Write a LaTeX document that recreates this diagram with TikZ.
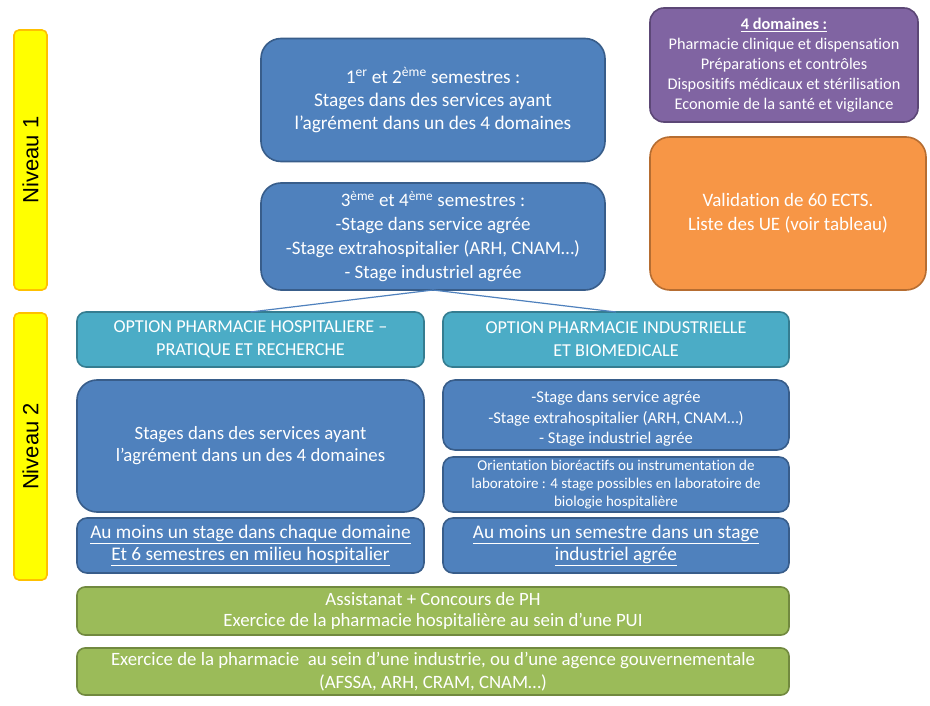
\documentclass[tikz,border=0pt]{standalone}
\usepackage{fontspec}
\setmainfont{Carlito}[Ligatures=NoCommon]
\newfontfamily\arialf{Liberation Sans}
\newcommand\tI{t\kern0pt i}
\definecolor{bfill}{HTML}{4F81BD}
\definecolor{bdraw}{HTML}{385D8A}
\definecolor{tfill}{HTML}{4BACC6}
\definecolor{tdraw}{HTML}{357D91}
\definecolor{pfill}{HTML}{8064A2}
\definecolor{pdraw}{HTML}{5C4776}
\definecolor{ofill}{HTML}{F79646}
\definecolor{odraw}{HTML}{B66D31}
\definecolor{gfill}{HTML}{9BBB59}
\definecolor{gdraw}{HTML}{71893F}
\definecolor{yfill}{HTML}{FFFF00}
\definecolor{ydraw}{HTML}{FFC000}
\tikzset{
  basebox/.style={rounded corners=#1, line width=1.6pt, text=white, align=center, inner sep=0pt, outer sep=0pt},
  bluebox/.style={basebox=#1, fill=bfill, draw=bdraw},
  tealbox/.style={basebox=#1, fill=tfill, draw=tdraw},
  purplebox/.style={basebox=#1, fill=pfill, draw=pdraw},
  orangebox/.style={basebox=#1, fill=ofill, draw=odraw},
  greenbox/.style={basebox=#1, fill=gfill, draw=gdraw},
  levelbox/.style={rounded corners=5pt, line width=1.6pt, fill=yfill, draw=ydraw, inner sep=0pt, outer sep=0pt},
  leveltext/.style={rotate=90, font=\arialf\fontsize{22}{24}\selectfont},
  boxtext/.style={text=white, align=center, inner sep=0pt},
  conn/.style={draw=bfill, line width=1.2pt}
}
\begin{document}
\begin{tikzpicture}[x=1pt,y=-1pt]
\path[fill=white] (0,0) rectangle (930,706);
\useasboundingbox (0,0) rectangle (930,706);

% level boxes
\node[levelbox, minimum width=33pt, minimum height=260pt] (n1) at (30.5,160) {};
\node[leveltext] (n1t) at (n1.center) {Niveau 1};
\node[levelbox, minimum width=33pt, minimum height=267pt] (n2) at (30.5,446.5) {};
\node[leveltext] (n2t) at (n2.center) {Niveau 2};

% Niveau 1
\node[bluebox=20pt, minimum width=344pt, minimum height=123pt, font=\fontsize{19.3}{23}\selectfont] (b1) at (433,100)
  {1\textsuperscript{er} et 2\textsuperscript{ème} semestres :\\Stages dans des services ayant\\l’agrément dans un des 4 domaines};
\node[bluebox=20pt, minimum width=344pt, minimum height=107pt, font=\fontsize{19}{24}\selectfont] (b2) at (433,236.5)
  {3\textsuperscript{ème} et 4\textsuperscript{ème} semestres :\\-Stage dans service agrée\\-Stage extrahospitalier (ARH, CNAM…)\\- Stage industriel agrée};

\node[purplebox=14pt, minimum width=268pt, minimum height=114pt, font=\fontsize{16.3}{20}\selectfont] (pd) at (784,65)
  {\textbf{\underline{4 domaines :}}\\Pharmacie clinique et dispensa\tI on\\Prépara\tI ons et contrôles\\Disposi\tI fs médicaux et stérilisa\tI on\\Economie de la santé et vigilance};
\node[orangebox=20pt, minimum width=276pt, minimum height=153pt, font=\fontsize{19}{24}\selectfont] (ov) at (788,213.5)
  {Valida\tI on de 60 ECTS.\\Liste des UE (voir tableau)};

% Niveau 2 options
\node[tealbox=9pt, minimum width=347pt, minimum height=55pt, font=\fontsize{18.2}{23}\selectfont] (tl) at (250.5,339.5)
  {OPTION PHARMACIE HOSPITALIERE –\\PRATIQUE ET RECHERCHE};
\node[tealbox=9pt, minimum width=346pt, minimum height=55pt, font=\fontsize{18.2}{23}\selectfont] (tr) at (616,339.5)
  {OPTION PHARMACIE INDUSTRIELLE\\ET BIOMEDICALE};

\draw[conn] (b2.south) -- (tl.north);
\draw[conn] (b2.south) -- (tr.north);

\node[bluebox=20pt, minimum width=347pt, minimum height=132pt, font=\fontsize{18.8}{22}\selectfont] (sl) at (250.5,446)
  {Stages dans des services ayant\\l’agrément dans un des 4 domaines};
\node[bluebox=12pt, minimum width=346pt, minimum height=70pt] (sr1) at (616,415) {};
\node[boxtext, font=\fontsize{16.5}{20.5}\selectfont] (sr1t) at ([yshift=-4pt]sr1.center)
  {-Stage dans service agrée\\-Stage extrahospitalier (ARH, CNAM…)\\- Stage industriel agrée};
\node[bluebox=10pt, minimum width=346pt, minimum height=55pt, font=\fontsize{15}{18}\selectfont] (sr2) at (616,484.5)
  {Orienta\tI on bioréac\tI fs ou instrumenta\tI on de\\laboratoire : 4 stage possibles en laboratoire de\\biologie hospitalière};

\node[bluebox=10pt, minimum width=347pt, minimum height=55pt, font=\fontsize{19.3}{22}\selectfont] (ul) at (250.5,545.5)
  {\underline{Au moins un stage dans chaque domaine}\\\underline{Et 6 semestres en milieu hospitalier}};
\node[bluebox=10pt, minimum width=346pt, minimum height=55pt, font=\fontsize{19.3}{22}\selectfont] (ur) at (616,545.5)
  {\underline{Au moins un semestre dans un stage}\\\underline{industriel agrée}};

% green
\node[greenbox=8pt, minimum width=712pt, minimum height=48pt, font=\fontsize{18.8}{21}\selectfont] (g1) at (433,611)
  {Assistanat + Concours de PH\\Exercice de la pharmacie hospitalière au sein d’une PUI};
\node[greenbox=8pt, minimum width=712pt, minimum height=47pt, font=\fontsize{18.8}{22.5}\selectfont] (g2) at (433,671.5)
  {Exercice de la pharmacie\ \ au sein d’une industrie, ou d’une agence gouvernementale\\(AFSSA, ARH, CRAM, CNAM…)};
\end{tikzpicture}
\end{document}
